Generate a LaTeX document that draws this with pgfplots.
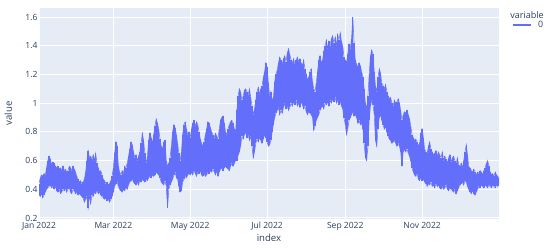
\documentclass[border=0pt]{standalone}
\usepackage{fontspec}
\setmainfont{Open Sans}
\usepackage{pgfplots}
\pgfplotsset{compat=1.18}
\usepackage{pgfplotstable}

\definecolor{plotbg}{HTML}{E5ECF6}
\definecolor{plotblue}{HTML}{636EFA}
\definecolor{plottext}{HTML}{2A3F5F}

% day of 2022 (0 = 1 Jan), low and high of the hourly values that day
\pgfplotstableread[row sep=\\]{
d lo hi\\
0 .36 .44\\ 1 .35 .48\\ 2 .37 .50\\ 3 .34 .49\\ 4 .36 .51\\ 5 .38 .50\\ 6 .40 .55\\ 7 .41 .60\\ 8 .42 .63\\ 9 .43 .61\\
10 .41 .57\\ 11 .42 .59\\ 12 .40 .58\\ 13 .42 .56\\ 14 .39 .55\\ 15 .38 .56\\ 16 .40 .54\\ 17 .37 .55\\ 18 .38 .53\\ 19 .40 .56\\
20 .39 .53\\ 21 .41 .54\\ 22 .38 .52\\ 23 .40 .53\\ 24 .41 .56\\ 25 .38 .55\\ 26 .37 .53\\ 27 .40 .56\\ 28 .39 .54\\ 29 .37 .52\\
30 .38 .49\\ 31 .36 .47\\ 32 .37 .45\\ 33 .36 .46\\ 34 .35 .44\\ 35 .34 .45\\ 36 .31 .47\\ 37 .33 .52\\ 38 .35 .60\\ 39 .27 .67\\
40 .36 .62\\ 41 .30 .63\\ 42 .36 .61\\ 43 .35 .64\\ 44 .38 .60\\ 45 .37 .65\\ 46 .39 .58\\ 47 .37 .55\\ 48 .38 .52\\ 49 .36 .53\\
50 .35 .50\\ 51 .34 .47\\ 52 .33 .46\\ 53 .34 .44\\ 54 .32 .45\\ 55 .33 .43\\ 56 .31 .44\\ 57 .33 .46\\ 58 .35 .49\\ 59 .38 .55\\
60 .42 .65\\ 61 .44 .73\\ 62 .45 .70\\ 63 .42 .56\\ 64 .40 .52\\ 65 .39 .50\\ 66 .38 .53\\ 67 .40 .51\\ 68 .39 .56\\ 69 .41 .55\\
70 .40 .58\\ 71 .43 .63\\ 72 .45 .68\\ 73 .46 .73\\ 74 .47 .71\\ 75 .45 .66\\ 76 .44 .62\\ 77 .43 .64\\ 78 .45 .60\\ 79 .43 .63\\
80 .46 .66\\ 81 .45 .72\\ 82 .47 .79\\ 83 .46 .74\\ 84 .45 .65\\ 85 .47 .58\\ 86 .46 .63\\ 87 .48 .74\\ 88 .49 .79\\ 89 .48 .76\\
90 .50 .72\\ 91 .49 .78\\ 92 .50 .84\\ 93 .52 .89\\ 94 .51 .86\\ 95 .50 .82\\ 96 .48 .75\\ 97 .45 .70\\ 98 .44 .68\\ 99 .43 .73\\
100 .46 .74\\ 101 .42 .60\\ 102 .27 .56\\ 103 .40 .58\\ 104 .43 .62\\ 105 .45 .70\\ 106 .47 .80\\ 107 .50 .85\\ 108 .52 .83\\ 109 .48 .78\\
110 .47 .72\\ 111 .42 .65\\ 112 .38 .60\\ 113 .39 .66\\ 114 .45 .78\\ 115 .47 .85\\ 116 .49 .87\\ 117 .48 .82\\ 118 .50 .78\\ 119 .51 .80\\
120 .50 .76\\ 121 .52 .82\\ 122 .50 .86\\ 123 .53 .88\\ 124 .51 .84\\ 125 .49 .87\\ 126 .52 .85\\ 127 .51 .80\\ 128 .53 .75\\ 129 .50 .72\\
130 .49 .70\\ 131 .51 .73\\ 132 .49 .78\\ 133 .50 .82\\ 134 .52 .87\\ 135 .51 .86\\ 136 .53 .83\\ 137 .52 .80\\ 138 .54 .78\\ 139 .52 .76\\
140 .50 .79\\ 141 .53 .77\\ 142 .49 .75\\ 143 .52 .82\\ 144 .54 .88\\ 145 .55 .90\\ 146 .53 .91\\ 147 .55 .86\\ 148 .56 .80\\ 149 .55 .78\\
150 .54 .82\\ 151 .53 .85\\ 152 .56 .87\\ 153 .58 .88\\ 154 .56 .86\\ 155 .58 .82\\ 156 .60 .80\\ 157 .60 .95\\ 158 .64 1.05\\ 159 .66 1.10\\
160 .70 1.08\\ 161 .77 1.02\\ 162 .75 1.05\\ 163 .78 1.09\\ 164 .80 1.10\\ 165 .76 1.08\\ 166 .78 1.06\\ 167 .74 1.10\\ 168 .77 1.04\\ 169 .70 .98\\
170 .62 .92\\ 171 .66 .96\\ 172 .72 1.02\\ 173 .75 1.08\\ 174 .73 1.11\\ 175 .76 1.06\\ 176 .74 1.10\\ 177 .72 1.12\\ 178 .75 1.18\\ 179 .78 1.22\\
180 .76 1.28\\ 181 .73 1.25\\ 182 .70 1.14\\ 183 .71 1.05\\ 184 .74 1.08\\ 185 .80 1.02\\ 186 .85 1.04\\ 187 .90 1.15\\ 188 .93 1.20\\ 189 .95 1.23\\
190 .97 1.28\\ 191 .92 1.32\\ 192 .95 1.30\\ 193 .93 1.27\\ 194 .97 1.31\\ 195 1.00 1.33\\ 196 .96 1.29\\ 197 .98 1.35\\ 198 .95 1.38\\ 199 .97 1.34\\
200 1.00 1.30\\ 201 .98 1.28\\ 202 1.01 1.31\\ 203 .99 1.27\\ 204 1.02 1.30\\ 205 .98 1.32\\ 206 1.00 1.29\\ 207 .97 1.31\\ 208 1.01 1.28\\ 209 .99 1.26\\
210 .96 1.30\\ 211 .98 1.24\\ 212 .94 1.20\\ 213 .92 1.16\\ 214 .94 1.18\\ 215 .93 1.22\\ 216 .92 1.24\\ 217 .90 1.15\\ 218 .81 1.10\\ 219 .84 1.08\\
220 .88 1.14\\ 221 .90 1.22\\ 222 .92 1.30\\ 223 .95 1.33\\ 224 .97 1.28\\ 225 .98 1.30\\ 226 .96 1.36\\ 227 1.00 1.40\\ 228 .99 1.44\\ 229 1.01 1.38\\
230 .98 1.43\\ 231 1.02 1.40\\ 232 1.00 1.45\\ 233 1.03 1.47\\ 234 1.01 1.42\\ 235 1.04 1.46\\ 236 1.00 1.40\\ 237 1.02 1.48\\ 238 .99 1.44\\ 239 1.01 1.49\\
240 .98 1.43\\ 241 .96 1.40\\ 242 .90 1.32\\ 243 .85 1.30\\ 244 .78 1.28\\ 245 .82 1.34\\ 246 .88 1.41\\ 247 .90 1.38\\ 248 .92 1.45\\ 249 .94 1.60\\
250 .91 1.42\\ 251 .92 1.30\\ 252 .90 1.27\\ 253 .86 1.25\\ 254 .88 1.28\\ 255 .85 1.26\\ 256 .86 1.22\\ 257 .82 1.18\\ 258 .72 1.10\\ 259 .62 1.00\\
260 .60 .96\\ 261 .70 1.05\\ 262 .88 1.20\\ 263 .98 1.33\\ 264 1.02 1.37\\ 265 .99 1.34\\ 266 .92 1.22\\ 267 .74 1.12\\ 268 .70 1.08\\ 269 .82 1.18\\
270 .90 1.24\\ 271 .92 1.21\\ 272 .88 1.14\\ 273 .85 1.12\\ 274 .82 1.10\\ 275 .84 1.13\\ 276 .80 1.08\\ 277 .77 1.05\\ 278 .75 1.03\\ 279 .74 1.04\\
280 .72 1.00\\ 281 .73 .98\\ 282 .74 1.02\\ 283 .72 1.00\\ 284 .70 1.01\\ 285 .72 1.03\\ 286 .70 1.00\\ 287 .66 .95\\ 288 .56 .88\\ 289 .66 .92\\
290 .68 .94\\ 291 .66 .93\\ 292 .68 .95\\ 293 .65 .92\\ 294 .63 .89\\ 295 .60 .84\\ 296 .55 .78\\ 297 .52 .76\\ 298 .50 .74\\ 299 .49 .75\\
300 .51 .73\\ 301 .47 .70\\ 302 .46 .72\\ 303 .48 .79\\ 304 .46 .82\\ 305 .47 .76\\ 306 .45 .68\\ 307 .44 .66\\ 308 .42 .65\\ 309 .44 .70\\
310 .43 .73\\ 311 .45 .68\\ 312 .42 .66\\ 313 .43 .64\\ 314 .41 .65\\ 315 .44 .67\\ 316 .42 .63\\ 317 .43 .66\\ 318 .41 .64\\ 319 .40 .62\\
320 .42 .66\\ 321 .40 .60\\ 322 .41 .63\\ 323 .43 .61\\ 324 .40 .58\\ 325 .39 .62\\ 326 .41 .64\\ 327 .40 .59\\ 328 .39 .62\\ 329 .38 .63\\
330 .40 .60\\ 331 .37 .58\\ 332 .39 .62\\ 333 .41 .57\\ 334 .43 .56\\ 335 .44 .58\\ 336 .45 .55\\ 337 .43 .60\\ 338 .46 .66\\ 339 .45 .71\\
340 .42 .64\\ 341 .40 .56\\ 342 .38 .55\\ 343 .37 .53\\ 344 .39 .52\\ 345 .37 .54\\ 346 .36 .52\\ 347 .38 .50\\ 348 .40 .52\\ 349 .42 .51\\
350 .41 .53\\ 351 .43 .52\\ 352 .42 .50\\ 353 .41 .53\\ 354 .43 .55\\ 355 .42 .58\\ 356 .41 .60\\ 357 .43 .56\\ 358 .42 .52\\ 359 .41 .50\\
360 .43 .51\\ 361 .42 .49\\ 362 .41 .52\\ 363 .43 .50\\ 364 .42 .49\\ 365 .43 .48\\
}\series

\begin{document}
\begin{tikzpicture}
\useasboundingbox (0,0) rectangle (412.5pt,185.25pt);
\begin{axis}[
    name=main,
    at={(29.25pt,21pt)}, anchor=south west,
    width=345pt, height=158.25pt, scale only axis,
    xmin=0, xmax=365,
    ymin=0.193, ymax=1.663,
    xtick={0,59,120,181,243,304},
    xticklabels={Jan 2022,Mar 2022,May 2022,Jul 2022,Sep 2022,Nov 2022},
    ytick={0.2,0.4,0.6,0.8,1,1.2,1.4,1.6},
    /pgf/number format/assume math mode=true,
    axis background/.style={fill=plotbg},
    axis line style={draw=none},
    major tick length=0pt,
    grid=major,
    grid style={white, line width=0.75pt},
    ticklabel style={font=\fontsize{6.4}{7.5}\selectfont, text=plottext},
    yticklabel style={inner xsep=1pt},
    xticklabel style={inner ysep=2.2pt},
    xlabel={index}, ylabel={value},
    every axis x label/.style={at={([yshift=-14.25pt]axis description cs:0.5,0)},
        anchor=center, font=\fontsize{7.2}{8.5}\selectfont, text=plottext},
    every axis y label/.style={at={([xshift=-23pt]axis description cs:0,0.5)},
        anchor=center, rotate=90, font=\fontsize{7.2}{8.5}\selectfont, text=plottext},
    legend style={at={(axis description cs:1.028,0.919)}, anchor=west,
        draw=none, fill=none, inner sep=0pt, column sep=3pt,
        font=\fontsize{6.6}{8}\selectfont, text=plottext},
    legend image code/.code={\draw[#1] (0pt,0pt) -- (13.5pt,0pt);},
]
\addplot[forget plot, color=plotblue, line width=0.4pt, mark=none,
    error bars/.cd, y dir=plus, y explicit, error mark=none,
    error bar style={line width=1.0pt, color=plotblue}]
    table[x=d, y=lo, y error plus expr=\thisrow{hi}-\thisrow{lo}] {\series};
\addplot[forget plot, color=plotblue, line width=0.4pt, mark=none]
    table[x=d, y=hi] {\series};
\addlegendimage{plotblue, line width=0.9pt}
\addlegendentry{0}
\end{axis}
\node[anchor=west, inner sep=0pt, text=plottext, font=\fontsize{6.8}{8}\selectfont]
    at ([xshift=8.25pt, yshift=-5pt]main.north east) {variable};
\end{tikzpicture}
\end{document}
